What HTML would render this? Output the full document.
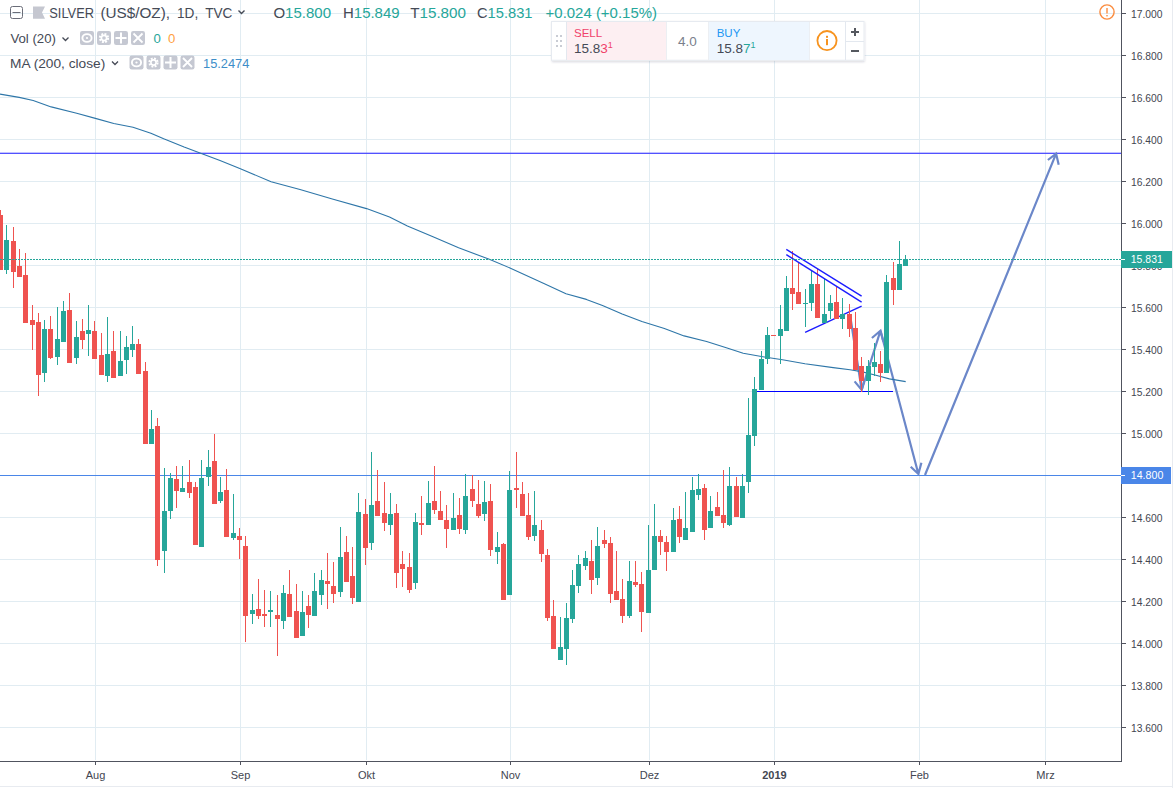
<!DOCTYPE html><html><head><meta charset="utf-8"><style>
html,body{margin:0;padding:0;background:#fff;width:1173px;height:788px;overflow:hidden}
svg{display:block;font-family:"Liberation Sans",sans-serif}
</style></head><body>
<svg width="1173" height="788" viewBox="0 0 1173 788">
<rect x="0" y="0" width="1173" height="788" fill="#ffffff"/>
<g shape-rendering="crispEdges" fill="#e1ecf2">
<rect x="95" y="0" width="1" height="760"/>
<rect x="240" y="0" width="1" height="760"/>
<rect x="366" y="0" width="1" height="760"/>
<rect x="510" y="0" width="1" height="760"/>
<rect x="649" y="0" width="1" height="760"/>
<rect x="774" y="0" width="1" height="760"/>
<rect x="919" y="0" width="1" height="760"/>
<rect x="1045" y="0" width="1" height="760"/>
<rect x="0" y="13" width="1121" height="1"/>
<rect x="0" y="55" width="1121" height="1"/>
<rect x="0" y="97" width="1121" height="1"/>
<rect x="0" y="139" width="1121" height="1"/>
<rect x="0" y="181" width="1121" height="1"/>
<rect x="0" y="223" width="1121" height="1"/>
<rect x="0" y="265" width="1121" height="1"/>
<rect x="0" y="307" width="1121" height="1"/>
<rect x="0" y="349" width="1121" height="1"/>
<rect x="0" y="391" width="1121" height="1"/>
<rect x="0" y="433" width="1121" height="1"/>
<rect x="0" y="475" width="1121" height="1"/>
<rect x="0" y="517" width="1121" height="1"/>
<rect x="0" y="559" width="1121" height="1"/>
<rect x="0" y="601" width="1121" height="1"/>
<rect x="0" y="643" width="1121" height="1"/>
<rect x="0" y="685" width="1121" height="1"/>
<rect x="0" y="727" width="1121" height="1"/>
</g>
<g fill="none" stroke-linecap="butt">
<rect x="0" y="153" width="1121" height="1" fill="#5252ff" shape-rendering="crispEdges"/>
<rect x="0" y="152" width="1121" height="1" fill="#5252ff" opacity="0.35" shape-rendering="crispEdges"/>
<rect x="0" y="475" width="1121" height="1" fill="#4a86e8" shape-rendering="crispEdges"/>
<rect x="756" y="391" width="137" height="1" fill="#0000ff" shape-rendering="crispEdges"/>
<line x1="805.1" y1="332.4" x2="861.6" y2="306.2" stroke="#1c1cff" stroke-width="1.4"/>
<path d="M850.5 318L861.7 390M854.6 381.4L861.7 390L864.5 379.5" stroke="#6b87c9" stroke-width="2.2" stroke-linejoin="miter" fill="none"/>
<path d="M861.7 390L880.5 330.7M871.9 338L880.5 330.7L883.3 341.6" stroke="#6b87c9" stroke-width="2.2" stroke-linejoin="miter" fill="none"/>
<path d="M880.5 330.7L918.4 474M910.7 466.8L918.4 474L921.4 462.8" stroke="#6b87c9" stroke-width="2.2" stroke-linejoin="miter" fill="none"/>
<path d="M925 475L1056.1 153.6M1047.9 160L1056.1 153.6L1058.7 164.7" stroke="#6b87c9" stroke-width="2.2" stroke-linejoin="miter" fill="none"/>
</g>
<polyline points="0,94.1 19.2,97.4 33.2,100.5 51.2,106.9 76.7,113.2 95.4,118.4 113.8,123.5 133,127.3 150.9,133.2 163.7,138.8 184.1,147 202,153.7 220,160.6 240.4,168.7 271.1,181.8 300,189.5 333.2,199.2 366.5,208.6 389.5,217.1 407.4,226 433,236.8 458.6,247.8 489.3,259.3 510.5,268.2 545.5,284.3 566,293.8 586.4,299.4 602.5,305.5 622.2,313.9 641.9,321.5 664.4,328.5 684.1,335.9 706.6,341.5 726.3,347.7 743.2,353.3 762.8,356.7 782.5,359.8 805,363.7 833.2,367.6 850,369.8 861.3,371.6 875,375 889.4,378.9 905.7,381.6" fill="none" stroke="#2e76a8" stroke-width="1.1" stroke-linejoin="round"/>
<g shape-rendering="crispEdges">
<rect x="0" y="210" width="1" height="60" fill="#ef5350"/>
<rect x="-2" y="215" width="5" height="55" fill="#ef5350"/>
<rect x="6" y="225" width="1" height="49" fill="#26a69a"/>
<rect x="4" y="240" width="5" height="30" fill="#26a69a"/>
<rect x="13" y="227" width="1" height="61" fill="#ef5350"/>
<rect x="11" y="241" width="5" height="31" fill="#ef5350"/>
<rect x="19" y="249" width="1" height="28" fill="#ef5350"/>
<rect x="17" y="266" width="5" height="11" fill="#ef5350"/>
<rect x="25" y="253" width="1" height="70" fill="#ef5350"/>
<rect x="23" y="275" width="5" height="48" fill="#ef5350"/>
<rect x="32" y="305" width="1" height="45" fill="#ef5350"/>
<rect x="30" y="320" width="5" height="5" fill="#ef5350"/>
<rect x="38" y="313" width="1" height="83" fill="#ef5350"/>
<rect x="36" y="322" width="5" height="53" fill="#ef5350"/>
<rect x="44" y="320" width="1" height="62" fill="#26a69a"/>
<rect x="42" y="329" width="5" height="44" fill="#26a69a"/>
<rect x="50" y="316" width="1" height="43" fill="#ef5350"/>
<rect x="48" y="329" width="5" height="29" fill="#ef5350"/>
<rect x="57" y="307" width="1" height="58" fill="#26a69a"/>
<rect x="55" y="339" width="5" height="18" fill="#26a69a"/>
<rect x="63" y="301" width="1" height="41" fill="#26a69a"/>
<rect x="61" y="311" width="5" height="31" fill="#26a69a"/>
<rect x="69" y="293" width="1" height="70" fill="#ef5350"/>
<rect x="67" y="310" width="5" height="53" fill="#ef5350"/>
<rect x="76" y="321" width="1" height="43" fill="#26a69a"/>
<rect x="74" y="337" width="5" height="21" fill="#26a69a"/>
<rect x="82" y="319" width="1" height="30" fill="#ef5350"/>
<rect x="80" y="331" width="5" height="9" fill="#ef5350"/>
<rect x="88" y="305" width="1" height="51" fill="#26a69a"/>
<rect x="86" y="330" width="5" height="4" fill="#26a69a"/>
<rect x="94" y="321" width="1" height="38" fill="#ef5350"/>
<rect x="92" y="331" width="5" height="28" fill="#ef5350"/>
<rect x="101" y="333" width="1" height="42" fill="#ef5350"/>
<rect x="99" y="355" width="5" height="20" fill="#ef5350"/>
<rect x="107" y="317" width="1" height="65" fill="#26a69a"/>
<rect x="105" y="354" width="5" height="22" fill="#26a69a"/>
<rect x="113" y="331" width="1" height="47" fill="#ef5350"/>
<rect x="111" y="351" width="5" height="27" fill="#ef5350"/>
<rect x="120" y="331" width="1" height="45" fill="#26a69a"/>
<rect x="118" y="361" width="5" height="15" fill="#26a69a"/>
<rect x="126" y="336" width="1" height="38" fill="#26a69a"/>
<rect x="124" y="347" width="5" height="13" fill="#26a69a"/>
<rect x="132" y="326" width="1" height="31" fill="#26a69a"/>
<rect x="130" y="344" width="5" height="6" fill="#26a69a"/>
<rect x="138" y="339" width="1" height="35" fill="#ef5350"/>
<rect x="136" y="344" width="5" height="30" fill="#ef5350"/>
<rect x="145" y="362" width="1" height="82" fill="#ef5350"/>
<rect x="143" y="371" width="5" height="73" fill="#ef5350"/>
<rect x="151" y="410" width="1" height="34" fill="#26a69a"/>
<rect x="149" y="429" width="5" height="15" fill="#26a69a"/>
<rect x="157" y="418" width="1" height="148" fill="#ef5350"/>
<rect x="155" y="426" width="5" height="134" fill="#ef5350"/>
<rect x="164" y="468" width="1" height="105" fill="#26a69a"/>
<rect x="162" y="511" width="5" height="40" fill="#26a69a"/>
<rect x="170" y="473" width="1" height="46" fill="#26a69a"/>
<rect x="168" y="478" width="5" height="33" fill="#26a69a"/>
<rect x="176" y="466" width="1" height="42" fill="#ef5350"/>
<rect x="174" y="479" width="5" height="12" fill="#ef5350"/>
<rect x="182" y="466" width="1" height="26" fill="#26a69a"/>
<rect x="180" y="488" width="5" height="4" fill="#26a69a"/>
<rect x="189" y="460" width="1" height="38" fill="#ef5350"/>
<rect x="187" y="482" width="5" height="11" fill="#ef5350"/>
<rect x="195" y="482" width="1" height="63" fill="#ef5350"/>
<rect x="193" y="487" width="5" height="58" fill="#ef5350"/>
<rect x="201" y="460" width="1" height="87" fill="#26a69a"/>
<rect x="199" y="478" width="5" height="69" fill="#26a69a"/>
<rect x="208" y="450" width="1" height="36" fill="#26a69a"/>
<rect x="206" y="467" width="5" height="10" fill="#26a69a"/>
<rect x="214" y="434" width="1" height="70" fill="#ef5350"/>
<rect x="212" y="461" width="5" height="43" fill="#ef5350"/>
<rect x="220" y="477" width="1" height="26" fill="#26a69a"/>
<rect x="218" y="492" width="5" height="9" fill="#26a69a"/>
<rect x="226" y="469" width="1" height="68" fill="#ef5350"/>
<rect x="224" y="490" width="5" height="47" fill="#ef5350"/>
<rect x="233" y="494" width="1" height="46" fill="#26a69a"/>
<rect x="231" y="533" width="5" height="5" fill="#26a69a"/>
<rect x="239" y="528" width="1" height="31" fill="#ef5350"/>
<rect x="237" y="536" width="5" height="4" fill="#ef5350"/>
<rect x="245" y="536" width="1" height="106" fill="#ef5350"/>
<rect x="243" y="546" width="5" height="70" fill="#ef5350"/>
<rect x="252" y="594" width="1" height="30" fill="#26a69a"/>
<rect x="250" y="610" width="5" height="4" fill="#26a69a"/>
<rect x="258" y="579" width="1" height="40" fill="#ef5350"/>
<rect x="256" y="609" width="5" height="7" fill="#ef5350"/>
<rect x="264" y="590" width="1" height="37" fill="#ef5350"/>
<rect x="262" y="614" width="5" height="2" fill="#ef5350"/>
<rect x="270" y="591" width="1" height="36" fill="#26a69a"/>
<rect x="268" y="610" width="5" height="2" fill="#26a69a"/>
<rect x="277" y="595" width="1" height="61" fill="#ef5350"/>
<rect x="275" y="615" width="5" height="4" fill="#ef5350"/>
<rect x="283" y="585" width="1" height="44" fill="#26a69a"/>
<rect x="281" y="593" width="5" height="28" fill="#26a69a"/>
<rect x="289" y="570" width="1" height="47" fill="#ef5350"/>
<rect x="287" y="594" width="5" height="23" fill="#ef5350"/>
<rect x="296" y="584" width="1" height="54" fill="#ef5350"/>
<rect x="294" y="611" width="5" height="27" fill="#ef5350"/>
<rect x="302" y="591" width="1" height="45" fill="#26a69a"/>
<rect x="300" y="612" width="5" height="24" fill="#26a69a"/>
<rect x="308" y="595" width="1" height="33" fill="#ef5350"/>
<rect x="306" y="606" width="5" height="9" fill="#ef5350"/>
<rect x="314" y="573" width="1" height="43" fill="#26a69a"/>
<rect x="312" y="591" width="5" height="25" fill="#26a69a"/>
<rect x="321" y="570" width="1" height="35" fill="#26a69a"/>
<rect x="319" y="580" width="5" height="15" fill="#26a69a"/>
<rect x="327" y="553" width="1" height="56" fill="#ef5350"/>
<rect x="325" y="581" width="5" height="3" fill="#ef5350"/>
<rect x="333" y="562" width="1" height="41" fill="#ef5350"/>
<rect x="331" y="586" width="5" height="8" fill="#ef5350"/>
<rect x="340" y="527" width="1" height="70" fill="#26a69a"/>
<rect x="338" y="557" width="5" height="35" fill="#26a69a"/>
<rect x="346" y="536" width="1" height="46" fill="#ef5350"/>
<rect x="344" y="552" width="5" height="30" fill="#ef5350"/>
<rect x="352" y="547" width="1" height="57" fill="#ef5350"/>
<rect x="350" y="576" width="5" height="22" fill="#ef5350"/>
<rect x="358" y="493" width="1" height="109" fill="#26a69a"/>
<rect x="356" y="512" width="5" height="90" fill="#26a69a"/>
<rect x="365" y="499" width="1" height="66" fill="#ef5350"/>
<rect x="363" y="514" width="5" height="34" fill="#ef5350"/>
<rect x="371" y="452" width="1" height="98" fill="#26a69a"/>
<rect x="369" y="505" width="5" height="38" fill="#26a69a"/>
<rect x="377" y="470" width="1" height="46" fill="#ef5350"/>
<rect x="375" y="501" width="5" height="15" fill="#ef5350"/>
<rect x="384" y="482" width="1" height="49" fill="#ef5350"/>
<rect x="382" y="513" width="5" height="10" fill="#ef5350"/>
<rect x="390" y="493" width="1" height="42" fill="#26a69a"/>
<rect x="388" y="514" width="5" height="11" fill="#26a69a"/>
<rect x="396" y="504" width="1" height="84" fill="#ef5350"/>
<rect x="394" y="513" width="5" height="60" fill="#ef5350"/>
<rect x="402" y="551" width="1" height="36" fill="#ef5350"/>
<rect x="400" y="564" width="5" height="5" fill="#ef5350"/>
<rect x="409" y="553" width="1" height="40" fill="#ef5350"/>
<rect x="407" y="567" width="5" height="23" fill="#ef5350"/>
<rect x="415" y="513" width="1" height="76" fill="#26a69a"/>
<rect x="413" y="522" width="5" height="61" fill="#26a69a"/>
<rect x="421" y="496" width="1" height="39" fill="#ef5350"/>
<rect x="419" y="523" width="5" height="2" fill="#ef5350"/>
<rect x="428" y="481" width="1" height="44" fill="#26a69a"/>
<rect x="426" y="503" width="5" height="22" fill="#26a69a"/>
<rect x="434" y="466" width="1" height="48" fill="#ef5350"/>
<rect x="432" y="501" width="5" height="9" fill="#ef5350"/>
<rect x="440" y="491" width="1" height="29" fill="#ef5350"/>
<rect x="438" y="511" width="5" height="9" fill="#ef5350"/>
<rect x="446" y="505" width="1" height="43" fill="#ef5350"/>
<rect x="444" y="520" width="5" height="9" fill="#ef5350"/>
<rect x="453" y="493" width="1" height="37" fill="#26a69a"/>
<rect x="451" y="518" width="5" height="12" fill="#26a69a"/>
<rect x="459" y="498" width="1" height="36" fill="#ef5350"/>
<rect x="457" y="515" width="5" height="14" fill="#ef5350"/>
<rect x="465" y="474" width="1" height="60" fill="#26a69a"/>
<rect x="463" y="496" width="5" height="34" fill="#26a69a"/>
<rect x="472" y="475" width="1" height="32" fill="#ef5350"/>
<rect x="470" y="489" width="5" height="12" fill="#ef5350"/>
<rect x="478" y="480" width="1" height="38" fill="#ef5350"/>
<rect x="476" y="504" width="5" height="12" fill="#ef5350"/>
<rect x="484" y="481" width="1" height="40" fill="#26a69a"/>
<rect x="482" y="502" width="5" height="12" fill="#26a69a"/>
<rect x="490" y="484" width="1" height="72" fill="#ef5350"/>
<rect x="488" y="501" width="5" height="49" fill="#ef5350"/>
<rect x="497" y="532" width="1" height="32" fill="#26a69a"/>
<rect x="495" y="547" width="5" height="5" fill="#26a69a"/>
<rect x="503" y="543" width="1" height="57" fill="#ef5350"/>
<rect x="501" y="544" width="5" height="56" fill="#ef5350"/>
<rect x="509" y="471" width="1" height="124" fill="#26a69a"/>
<rect x="507" y="490" width="5" height="105" fill="#26a69a"/>
<rect x="516" y="452" width="1" height="56" fill="#ef5350"/>
<rect x="514" y="488" width="5" height="2" fill="#ef5350"/>
<rect x="522" y="482" width="1" height="34" fill="#ef5350"/>
<rect x="520" y="494" width="5" height="22" fill="#ef5350"/>
<rect x="528" y="493" width="1" height="47" fill="#ef5350"/>
<rect x="526" y="515" width="5" height="22" fill="#ef5350"/>
<rect x="534" y="491" width="1" height="50" fill="#26a69a"/>
<rect x="532" y="525" width="5" height="11" fill="#26a69a"/>
<rect x="541" y="520" width="1" height="42" fill="#ef5350"/>
<rect x="539" y="530" width="5" height="24" fill="#ef5350"/>
<rect x="547" y="549" width="1" height="72" fill="#ef5350"/>
<rect x="545" y="555" width="5" height="63" fill="#ef5350"/>
<rect x="553" y="600" width="1" height="49" fill="#ef5350"/>
<rect x="551" y="616" width="5" height="33" fill="#ef5350"/>
<rect x="560" y="617" width="1" height="43" fill="#26a69a"/>
<rect x="558" y="647" width="5" height="13" fill="#26a69a"/>
<rect x="566" y="603" width="1" height="62" fill="#26a69a"/>
<rect x="564" y="618" width="5" height="31" fill="#26a69a"/>
<rect x="572" y="570" width="1" height="53" fill="#26a69a"/>
<rect x="570" y="585" width="5" height="34" fill="#26a69a"/>
<rect x="578" y="555" width="1" height="38" fill="#26a69a"/>
<rect x="576" y="564" width="5" height="22" fill="#26a69a"/>
<rect x="585" y="551" width="1" height="19" fill="#26a69a"/>
<rect x="583" y="558" width="5" height="8" fill="#26a69a"/>
<rect x="591" y="540" width="1" height="54" fill="#ef5350"/>
<rect x="589" y="561" width="5" height="19" fill="#ef5350"/>
<rect x="597" y="527" width="1" height="58" fill="#26a69a"/>
<rect x="595" y="546" width="5" height="32" fill="#26a69a"/>
<rect x="604" y="530" width="1" height="18" fill="#ef5350"/>
<rect x="602" y="540" width="5" height="4" fill="#ef5350"/>
<rect x="610" y="537" width="1" height="66" fill="#ef5350"/>
<rect x="608" y="543" width="5" height="51" fill="#ef5350"/>
<rect x="616" y="551" width="1" height="49" fill="#ef5350"/>
<rect x="614" y="591" width="5" height="9" fill="#ef5350"/>
<rect x="622" y="579" width="1" height="44" fill="#ef5350"/>
<rect x="620" y="599" width="5" height="17" fill="#ef5350"/>
<rect x="629" y="561" width="1" height="57" fill="#26a69a"/>
<rect x="627" y="581" width="5" height="35" fill="#26a69a"/>
<rect x="635" y="561" width="1" height="26" fill="#ef5350"/>
<rect x="633" y="582" width="5" height="3" fill="#ef5350"/>
<rect x="641" y="572" width="1" height="60" fill="#ef5350"/>
<rect x="639" y="584" width="5" height="28" fill="#ef5350"/>
<rect x="648" y="525" width="1" height="88" fill="#26a69a"/>
<rect x="646" y="570" width="5" height="43" fill="#26a69a"/>
<rect x="654" y="504" width="1" height="66" fill="#26a69a"/>
<rect x="652" y="536" width="5" height="34" fill="#26a69a"/>
<rect x="660" y="530" width="1" height="25" fill="#ef5350"/>
<rect x="658" y="536" width="5" height="6" fill="#ef5350"/>
<rect x="666" y="536" width="1" height="35" fill="#ef5350"/>
<rect x="664" y="542" width="5" height="10" fill="#ef5350"/>
<rect x="673" y="508" width="1" height="44" fill="#26a69a"/>
<rect x="671" y="520" width="5" height="32" fill="#26a69a"/>
<rect x="679" y="506" width="1" height="37" fill="#ef5350"/>
<rect x="677" y="519" width="5" height="18" fill="#ef5350"/>
<rect x="685" y="492" width="1" height="48" fill="#26a69a"/>
<rect x="683" y="528" width="5" height="12" fill="#26a69a"/>
<rect x="692" y="477" width="1" height="55" fill="#26a69a"/>
<rect x="690" y="490" width="5" height="42" fill="#26a69a"/>
<rect x="698" y="474" width="1" height="26" fill="#26a69a"/>
<rect x="696" y="489" width="5" height="6" fill="#26a69a"/>
<rect x="704" y="484" width="1" height="56" fill="#ef5350"/>
<rect x="702" y="488" width="5" height="42" fill="#ef5350"/>
<rect x="710" y="496" width="1" height="32" fill="#26a69a"/>
<rect x="708" y="511" width="5" height="17" fill="#26a69a"/>
<rect x="717" y="492" width="1" height="24" fill="#ef5350"/>
<rect x="715" y="507" width="5" height="9" fill="#ef5350"/>
<rect x="723" y="470" width="1" height="58" fill="#ef5350"/>
<rect x="721" y="515" width="5" height="8" fill="#ef5350"/>
<rect x="729" y="467" width="1" height="59" fill="#26a69a"/>
<rect x="727" y="486" width="5" height="39" fill="#26a69a"/>
<rect x="736" y="477" width="1" height="40" fill="#ef5350"/>
<rect x="734" y="486" width="5" height="31" fill="#ef5350"/>
<rect x="742" y="474" width="1" height="44" fill="#26a69a"/>
<rect x="740" y="486" width="5" height="32" fill="#26a69a"/>
<rect x="748" y="398" width="1" height="95" fill="#26a69a"/>
<rect x="746" y="435" width="5" height="47" fill="#26a69a"/>
<rect x="754" y="377" width="1" height="69" fill="#26a69a"/>
<rect x="752" y="389" width="5" height="47" fill="#26a69a"/>
<rect x="761" y="351" width="1" height="39" fill="#26a69a"/>
<rect x="759" y="359" width="5" height="31" fill="#26a69a"/>
<rect x="767" y="327" width="1" height="37" fill="#26a69a"/>
<rect x="765" y="335" width="5" height="24" fill="#26a69a"/>
<rect x="773" y="335" width="1" height="1" fill="#ef5350"/>
<rect x="771" y="335" width="5" height="1" fill="#ef5350"/>
<rect x="780" y="305" width="1" height="59" fill="#26a69a"/>
<rect x="778" y="329" width="5" height="7" fill="#26a69a"/>
<rect x="786" y="276" width="1" height="55" fill="#26a69a"/>
<rect x="784" y="288" width="5" height="43" fill="#26a69a"/>
<rect x="792" y="251" width="1" height="59" fill="#ef5350"/>
<rect x="790" y="288" width="5" height="6" fill="#ef5350"/>
<rect x="798" y="262" width="1" height="42" fill="#ef5350"/>
<rect x="796" y="292" width="5" height="12" fill="#ef5350"/>
<rect x="805" y="289" width="1" height="38" fill="#26a69a"/>
<rect x="803" y="303" width="5" height="1" fill="#26a69a"/>
<rect x="811" y="270" width="1" height="41" fill="#26a69a"/>
<rect x="809" y="284" width="5" height="19" fill="#26a69a"/>
<rect x="817" y="269" width="1" height="49" fill="#ef5350"/>
<rect x="815" y="284" width="5" height="34" fill="#ef5350"/>
<rect x="824" y="278" width="1" height="45" fill="#26a69a"/>
<rect x="822" y="314" width="5" height="9" fill="#26a69a"/>
<rect x="830" y="295" width="1" height="24" fill="#26a69a"/>
<rect x="828" y="303" width="5" height="8" fill="#26a69a"/>
<rect x="836" y="287" width="1" height="32" fill="#ef5350"/>
<rect x="834" y="302" width="5" height="17" fill="#ef5350"/>
<rect x="842" y="298" width="1" height="31" fill="#26a69a"/>
<rect x="840" y="314" width="5" height="5" fill="#26a69a"/>
<rect x="849" y="304" width="1" height="33" fill="#ef5350"/>
<rect x="847" y="314" width="5" height="15" fill="#ef5350"/>
<rect x="855" y="312" width="1" height="58" fill="#ef5350"/>
<rect x="853" y="328" width="5" height="42" fill="#ef5350"/>
<rect x="861" y="357" width="1" height="35" fill="#ef5350"/>
<rect x="859" y="366" width="5" height="15" fill="#ef5350"/>
<rect x="868" y="360" width="1" height="35" fill="#26a69a"/>
<rect x="866" y="366" width="5" height="15" fill="#26a69a"/>
<rect x="874" y="343" width="1" height="33" fill="#26a69a"/>
<rect x="872" y="362" width="5" height="5" fill="#26a69a"/>
<rect x="880" y="351" width="1" height="31" fill="#ef5350"/>
<rect x="878" y="364" width="5" height="9" fill="#ef5350"/>
<rect x="886" y="275" width="1" height="98" fill="#26a69a"/>
<rect x="884" y="282" width="5" height="91" fill="#26a69a"/>
<rect x="893" y="262" width="1" height="43" fill="#ef5350"/>
<rect x="891" y="278" width="5" height="12" fill="#ef5350"/>
<rect x="899" y="241" width="1" height="49" fill="#26a69a"/>
<rect x="897" y="264" width="5" height="26" fill="#26a69a"/>
<rect x="905" y="255" width="1" height="11" fill="#26a69a"/>
<rect x="903" y="259" width="5" height="7" fill="#26a69a"/>
</g>
<line x1="786.3" y1="249.4" x2="861.6" y2="296.1" stroke="#1c1cff" stroke-width="1.4"/>
<line x1="786.3" y1="254.6" x2="861.6" y2="302.2" stroke="#1c1cff" stroke-width="1.4"/>
<line x1="0" y1="259.5" x2="1121" y2="259.5" stroke="#26a69a" stroke-width="1" stroke-dasharray="2 1" shape-rendering="crispEdges"/>
<g shape-rendering="crispEdges">
<rect x="1121" y="0" width="1" height="762" fill="#50535e"/>
<rect x="0" y="761" width="1122" height="1" fill="#50535e"/>
<rect x="1122" y="13" width="4" height="1" fill="#50535e"/>
<rect x="1122" y="55" width="4" height="1" fill="#50535e"/>
<rect x="1122" y="97" width="4" height="1" fill="#50535e"/>
<rect x="1122" y="139" width="4" height="1" fill="#50535e"/>
<rect x="1122" y="181" width="4" height="1" fill="#50535e"/>
<rect x="1122" y="223" width="4" height="1" fill="#50535e"/>
<rect x="1122" y="265" width="4" height="1" fill="#50535e"/>
<rect x="1122" y="307" width="4" height="1" fill="#50535e"/>
<rect x="1122" y="349" width="4" height="1" fill="#50535e"/>
<rect x="1122" y="391" width="4" height="1" fill="#50535e"/>
<rect x="1122" y="433" width="4" height="1" fill="#50535e"/>
<rect x="1122" y="475" width="4" height="1" fill="#50535e"/>
<rect x="1122" y="517" width="4" height="1" fill="#50535e"/>
<rect x="1122" y="559" width="4" height="1" fill="#50535e"/>
<rect x="1122" y="601" width="4" height="1" fill="#50535e"/>
<rect x="1122" y="643" width="4" height="1" fill="#50535e"/>
<rect x="1122" y="685" width="4" height="1" fill="#50535e"/>
<rect x="1122" y="727" width="4" height="1" fill="#50535e"/>
<rect x="95" y="762" width="1" height="3" fill="#50535e"/>
<rect x="240" y="762" width="1" height="3" fill="#50535e"/>
<rect x="366" y="762" width="1" height="3" fill="#50535e"/>
<rect x="510" y="762" width="1" height="3" fill="#50535e"/>
<rect x="649" y="762" width="1" height="3" fill="#50535e"/>
<rect x="774" y="762" width="1" height="3" fill="#50535e"/>
<rect x="919" y="762" width="1" height="3" fill="#50535e"/>
<rect x="1045" y="762" width="1" height="3" fill="#50535e"/>
<rect x="1172" y="0" width="1" height="788" fill="#e8ebf0"/>
<rect x="0" y="786" width="1173" height="1" fill="#e8ebf0"/>
</g>
<g font-size="11" fill="#434651">
<text x="1131" y="17.9" textLength="31.5" lengthAdjust="spacingAndGlyphs">17.000</text>
<text x="1131" y="59.9" textLength="31.5" lengthAdjust="spacingAndGlyphs">16.800</text>
<text x="1131" y="101.9" textLength="31.5" lengthAdjust="spacingAndGlyphs">16.600</text>
<text x="1131" y="143.9" textLength="31.5" lengthAdjust="spacingAndGlyphs">16.400</text>
<text x="1131" y="185.9" textLength="31.5" lengthAdjust="spacingAndGlyphs">16.200</text>
<text x="1131" y="227.9" textLength="31.5" lengthAdjust="spacingAndGlyphs">16.000</text>
<text x="1131" y="269.9" textLength="31.5" lengthAdjust="spacingAndGlyphs">15.800</text>
<text x="1131" y="311.9" textLength="31.5" lengthAdjust="spacingAndGlyphs">15.600</text>
<text x="1131" y="353.9" textLength="31.5" lengthAdjust="spacingAndGlyphs">15.400</text>
<text x="1131" y="395.9" textLength="31.5" lengthAdjust="spacingAndGlyphs">15.200</text>
<text x="1131" y="437.9" textLength="31.5" lengthAdjust="spacingAndGlyphs">15.000</text>
<text x="1131" y="479.9" textLength="31.5" lengthAdjust="spacingAndGlyphs">14.800</text>
<text x="1131" y="521.9" textLength="31.5" lengthAdjust="spacingAndGlyphs">14.600</text>
<text x="1131" y="563.9" textLength="31.5" lengthAdjust="spacingAndGlyphs">14.400</text>
<text x="1131" y="605.9" textLength="31.5" lengthAdjust="spacingAndGlyphs">14.200</text>
<text x="1131" y="647.9" textLength="31.5" lengthAdjust="spacingAndGlyphs">14.000</text>
<text x="1131" y="689.9" textLength="31.5" lengthAdjust="spacingAndGlyphs">13.800</text>
<text x="1131" y="731.9" textLength="31.5" lengthAdjust="spacingAndGlyphs">13.600</text>
</g>
<g font-size="11" fill="#434651" text-anchor="middle">
<text x="95.5" y="779">Aug</text>
<text x="240.5" y="779">Sep</text>
<text x="366.5" y="779">Okt</text>
<text x="510.5" y="779">Nov</text>
<text x="649.5" y="779">Dez</text>
<text x="774.5" y="779" font-weight="bold">2019</text>
<text x="919.5" y="779">Feb</text>
<text x="1045.5" y="779">Mrz</text>
</g>
<rect x="1121" y="251" width="51" height="17" fill="#26a69a" shape-rendering="crispEdges"/>
<rect x="1121" y="259" width="4" height="1" fill="#fff" shape-rendering="crispEdges"/>
<text x="1130.8" y="263" font-size="11" fill="#fff" textLength="32" lengthAdjust="spacingAndGlyphs">15.831</text>
<rect x="1121" y="467" width="50" height="17" fill="#4a86e8" shape-rendering="crispEdges"/>
<rect x="1121" y="475" width="4" height="1" fill="#fff" shape-rendering="crispEdges"/>
<text x="1130.8" y="479" font-size="11" fill="#fff" textLength="32.5" lengthAdjust="spacingAndGlyphs">14.800</text>
<circle cx="1107" cy="12" r="7.1" fill="none" stroke="#fb8c3f" stroke-width="1.4"/>
<rect x="1106.3" y="8" width="1.4" height="5.5" fill="#fb8c3f"/>
<rect x="1106.3" y="15" width="1.4" height="1.4" fill="#fb8c3f"/>
<g>
<rect x="10.5" y="6.5" width="12" height="12" rx="2" fill="none" stroke="#6a6d78" stroke-width="1"/>
<rect x="12.5" y="12" width="8" height="1" fill="#6a6d78"/>
<path d="M33 6.5H45L42 12.5L45 18.7H33Z" fill="#c5c7d0"/>
<text x="49.3" y="17.8" font-size="14.6" fill="#454a56" textLength="44.7" lengthAdjust="spacingAndGlyphs">SILVER</text>
<text x="100.4" y="17.8" font-size="14.6" fill="#454a56" textLength="69.6" lengthAdjust="spacingAndGlyphs">(US$/OZ),</text>
<text x="177" y="17.8" font-size="14.6" fill="#454a56" textLength="21.2" lengthAdjust="spacingAndGlyphs">1D,</text>
<text x="205.2" y="17.8" font-size="14.6" fill="#454a56" textLength="27.2" lengthAdjust="spacingAndGlyphs">TVC</text>
<path d="M238.5 10.5L241.5 13.5L244.5 10.5" fill="none" stroke="#454a56" stroke-width="1.4"/>
<text x="273.4" y="17.8" font-size="14.6" fill="#26a69a" textLength="57.60000000000002" lengthAdjust="spacingAndGlyphs"><tspan fill="#454a56">O</tspan>15.800</text>
<text x="343" y="17.8" font-size="14.6" fill="#26a69a" textLength="56.60000000000002" lengthAdjust="spacingAndGlyphs"><tspan fill="#454a56">H</tspan>15.849</text>
<text x="410.2" y="17.8" font-size="14.6" fill="#26a69a" textLength="55.80000000000001" lengthAdjust="spacingAndGlyphs"><tspan fill="#454a56">T</tspan>15.800</text>
<text x="477" y="17.8" font-size="14.6" fill="#26a69a" textLength="55.5" lengthAdjust="spacingAndGlyphs"><tspan fill="#454a56">C</tspan>15.831</text>
<text x="545.6" y="17.8" font-size="14.6" fill="#26a69a" textLength="111.4" lengthAdjust="spacingAndGlyphs">+0.024 (+0.15%)</text>
<text x="10.4" y="42.6" font-size="13.2" fill="#454a56" textLength="45.6" lengthAdjust="spacingAndGlyphs">Vol (20)</text>
<path d="M62.5 37.5L65.5 40.5L68.5 37.5" fill="none" stroke="#454a56" stroke-width="1.3"/>
<text x="10" y="67.7" font-size="13.2" fill="#454a56" textLength="95.3" lengthAdjust="spacingAndGlyphs">MA (200, close)</text>
<path d="M112 61.5L115 64.5L118 61.5" fill="none" stroke="#454a56" stroke-width="1.3"/>
<rect x="80" y="31" width="14" height="14" rx="2.2" fill="#c5c8d2"/><rect x="97" y="31" width="14" height="14" rx="2.2" fill="#c5c8d2"/><rect x="114" y="31" width="14" height="14" rx="2.2" fill="#c5c8d2"/><rect x="131" y="31" width="14" height="14" rx="2.2" fill="#c5c8d2"/><ellipse cx="87" cy="38" rx="4.6" ry="3.9" fill="none" stroke="#fff" stroke-width="1.9"/><circle cx="87" cy="38" r="1.1" fill="#fff"/><circle cx="104" cy="38" r="4.1" fill="none" stroke="#fff" stroke-width="2" stroke-dasharray="1.9 1.32"/><circle cx="104" cy="38" r="2.6" fill="none" stroke="#fff" stroke-width="1.6"/><rect x="115.5" y="37" width="11" height="2" fill="#fff"/><rect x="120" y="32.5" width="2" height="11" fill="#fff"/><path d="M133.5 33.5L142.5 42.5M142.5 33.5L133.5 42.5" stroke="#fff" stroke-width="1.8"/>
<text x="153.4" y="42.6" font-size="13.2" fill="#26a69a">0</text>
<text x="168" y="42.6" font-size="13.2" fill="#ff9f43">0</text>
<rect x="129.5" y="55.5" width="14" height="14" rx="2.2" fill="#c5c8d2"/><rect x="146.5" y="55.5" width="14" height="14" rx="2.2" fill="#c5c8d2"/><rect x="163.5" y="55.5" width="14" height="14" rx="2.2" fill="#c5c8d2"/><rect x="180.5" y="55.5" width="14" height="14" rx="2.2" fill="#c5c8d2"/><ellipse cx="136.5" cy="62.5" rx="4.6" ry="3.9" fill="none" stroke="#fff" stroke-width="1.9"/><circle cx="136.5" cy="62.5" r="1.1" fill="#fff"/><circle cx="153.5" cy="62.5" r="4.1" fill="none" stroke="#fff" stroke-width="2" stroke-dasharray="1.9 1.32"/><circle cx="153.5" cy="62.5" r="2.6" fill="none" stroke="#fff" stroke-width="1.6"/><rect x="165.0" y="61.5" width="11" height="2" fill="#fff"/><rect x="169.5" y="57.0" width="2" height="11" fill="#fff"/><path d="M183.0 58.0L192.0 67.0M192.0 58.0L183.0 67.0" stroke="#fff" stroke-width="1.8"/>
<text x="203" y="67.7" font-size="13.2" fill="#3d8ec9" textLength="46.4" lengthAdjust="spacingAndGlyphs">15.2474</text>
</g>
<defs><filter id="sh" x="-5%" y="-30%" width="110%" height="170%"><feDropShadow dx="0" dy="1.2" stdDeviation="1.3" flood-color="#1e2a3c" flood-opacity="0.22"/></filter></defs>
<g>
<rect x="552" y="21" width="312.5" height="39.5" fill="#fff" filter="url(#sh)"/>
<rect x="551.5" y="21.5" width="312.5" height="38.7" fill="none" stroke="#e6eaf0" stroke-width="1"/>
<rect x="567" y="22" width="99" height="38" fill="#fdeff2" shape-rendering="crispEdges"/>
<rect x="709" y="22" width="100" height="38" fill="#eef6fe" shape-rendering="crispEdges"/>
<rect x="566" y="22" width="1" height="38" fill="#e3e8ef" shape-rendering="crispEdges"/>
<rect x="666" y="22" width="1" height="38" fill="#eceff3" shape-rendering="crispEdges"/>
<rect x="708" y="22" width="1" height="38" fill="#eceff3" shape-rendering="crispEdges"/>
<rect x="809" y="22" width="1" height="38" fill="#eceff3" shape-rendering="crispEdges"/>
<rect x="845" y="22" width="1" height="38" fill="#e3e8ef" shape-rendering="crispEdges"/>
<rect x="846" y="41" width="18" height="1" fill="#e3e8ef" shape-rendering="crispEdges"/>
<rect x="556" y="35" width="2" height="2" fill="#c9ccd4" shape-rendering="crispEdges"/>
<rect x="556" y="40" width="2" height="2" fill="#c9ccd4" shape-rendering="crispEdges"/>
<rect x="556" y="45" width="2" height="2" fill="#c9ccd4" shape-rendering="crispEdges"/>
<rect x="560" y="35" width="2" height="2" fill="#c9ccd4" shape-rendering="crispEdges"/>
<rect x="560" y="40" width="2" height="2" fill="#c9ccd4" shape-rendering="crispEdges"/>
<rect x="560" y="45" width="2" height="2" fill="#c9ccd4" shape-rendering="crispEdges"/>
<text x="574" y="36.7" font-size="11.5" fill="#f0426a">SELL</text>
<text x="574" y="52.8" font-size="13.5" fill="#454a56">15.8<tspan fill="#f0426a">3</tspan><tspan fill="#f0426a" font-size="9" dy="-5">1</tspan></text>
<text x="678" y="45.8" font-size="13.5" fill="#7a7f8c">4.0</text>
<text x="716.7" y="36.7" font-size="11.5" fill="#2196f3">BUY</text>
<text x="716.7" y="52.8" font-size="13.5" fill="#454a56">15.8<tspan fill="#26a69a">7</tspan><tspan fill="#26a69a" font-size="9" dy="-5">1</tspan></text>
<circle cx="827" cy="40.6" r="9.6" fill="none" stroke="#f7931e" stroke-width="1.8"/>
<rect x="826" y="35.8" width="2" height="2" fill="#f7931e"/>
<rect x="826" y="39" width="2" height="6.2" fill="#f7931e"/>
<g shape-rendering="crispEdges" fill="#55585f">
<rect x="851" y="31" width="8" height="2"/>
<rect x="854" y="28" width="2" height="8"/>
<rect x="851" y="50" width="8" height="2"/>
</g>
</g>
</svg></body></html>
